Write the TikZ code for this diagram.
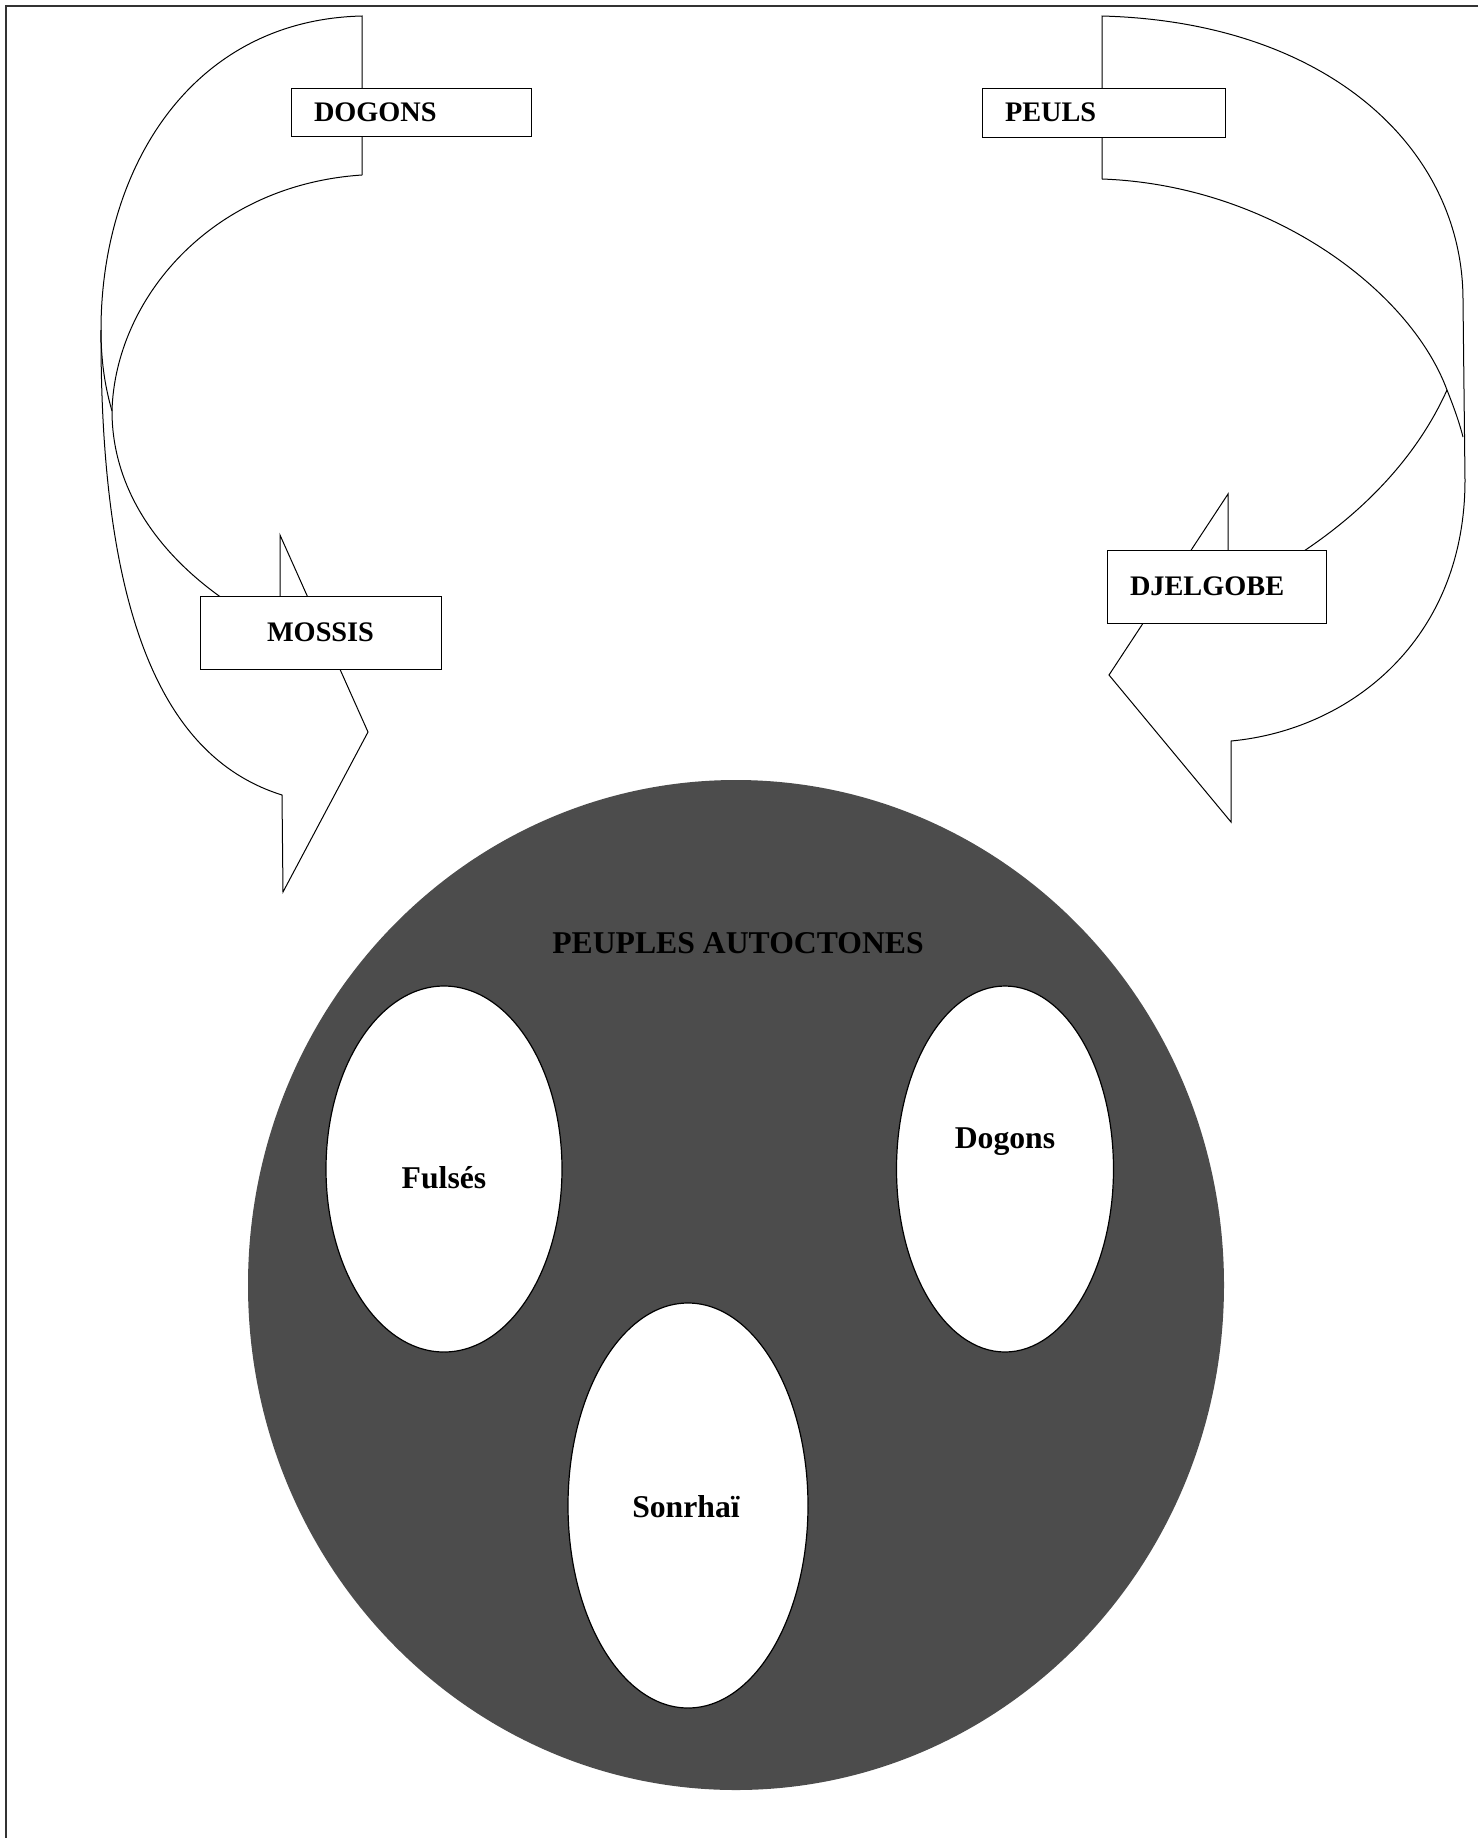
\documentclass[tikz,border=0pt]{standalone}
\usepackage{fontspec}
\setmainfont{Liberation Serif}
\usetikzlibrary{shapes.geometric}

\begin{document}
\begin{tikzpicture}[x=0.5pt,y=0.5pt,yscale=-1,xscale=1,
  band/.style={draw=black,line width=0.5pt},
  tagbox/.style={rectangle,draw=black,line width=0.5pt,fill=white,inner xsep=11.5pt,inner ysep=0pt,align=left,font=\bfseries\fontsize{14.15}{16}\selectfont},
  oval/.style={ellipse,draw=black,line width=0.6pt,fill=white,inner sep=0pt},
  ovaltext/.style={inner sep=0pt,font=\bfseries\fontsize{15.85}{18}\selectfont}]
\useasboundingbox (0,0) rectangle (1481,1838);

%Straight Lines: frame
\draw [color=black!80,line width=0.6pt] (1478,6) -- (6,6) -- (6,1838) ;

%Shape: Curved Right Arrow (left)
\draw [band] (362,175) -- (362,16) .. controls (190,20) and (101,170) .. (101,330) .. controls (101,365) and (106,390) .. (112,411) ;
\draw [band] (362,175) .. controls (210,185) and (115,300) .. (112,411) .. controls (112,490) and (160,560) .. (240,610) ;
\draw [band] (101,330) .. controls (100,630) and (170,760) .. (282,795) -- (283,892) -- (368,732) -- (280,535) -- (280,615) ;

%Shape: Curved Left Arrow (right)
\draw [band] (1102,179) -- (1102,16) .. controls (1330,22) and (1463,150) .. (1463,300) -- (1465,480) .. controls (1465,640) and (1350,730) .. (1231,741) -- (1231,822) -- (1109,675) -- (1228,494) -- (1228,560) ;
\draw [band] (1102,179) .. controls (1270,185) and (1410,290) .. (1447,390) .. controls (1455,410) and (1460,425) .. (1463,437) ;
\draw [band] (1447,390) .. controls (1420,450) and (1370,510) .. (1290,560) ;

% Text Node
\node [tagbox,text width=97pt,minimum height=24pt] (dogons) at (411,112) {DOGONS};
% Text Node
\node [tagbox,text width=98.5pt,minimum height=24.5pt] (peuls) at (1103.5,112.5) {PEULS};
% Text Node
\node [tagbox,text width=97.5pt,align=center,minimum height=36.5pt] (mossis) at (320.5,632.5) {MOSSIS};
% Text Node
\node [tagbox,text width=86.5pt,minimum height=36.5pt] (djelgobe) at (1216.5,586.5) {DJELGOBE};

%Shape: Circle
\node [ellipse,fill=black!70,inner sep=0pt,minimum width=488pt,minimum height=505pt] (autoch) at (736,1285) {};
% Text Node
\node [ovaltext] (peuples) at (738,943) {PEUPLES AUTOCTONES};

%Shape: Ellipse
\node [oval,minimum width=118pt,minimum height=183pt] (fulses) at (444,1169) {};
%Shape: Ellipse
\node [oval,minimum width=108.5pt,minimum height=183pt] (dogonsE) at (1005,1169) {};
%Shape: Ellipse
\node [oval,minimum width=120pt,minimum height=202.5pt] (sonrhai) at (688,1505.5) {};

% Text Node
\node [ovaltext] (tfulses) at (444,1178) {Fulsés};
% Text Node
\node [ovaltext] (tdogons) at (1005,1142) {Dogons};
% Text Node
\node [ovaltext] (tsonrhai) at (686,1507) {Sonrhaï};

\end{tikzpicture}
\end{document}
